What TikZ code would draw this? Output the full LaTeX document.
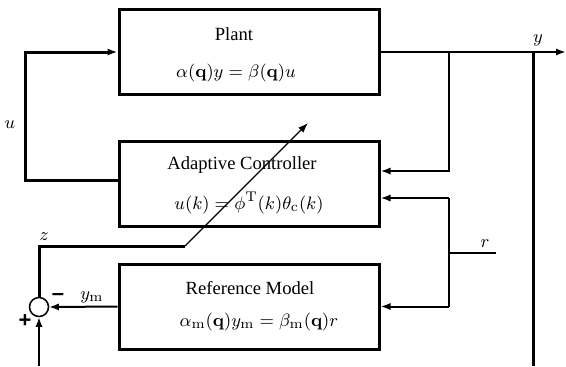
\documentclass[tikz,border=0pt]{standalone}
\usepackage{amsmath}
\usepackage[no-math]{fontspec}
\setmainfont{Liberation Serif}
\newfontfamily\signfont{Liberation Sans}
\usetikzlibrary{arrows.meta,calc}
\begin{document}
\begin{tikzpicture}[x=0.5pt,y=-0.5pt,
  font=\fontsize{9.3}{11}\selectfont,
  block/.style={draw,line width=1.5pt,minimum width=130pt,minimum height=42.5pt,inner sep=0pt},
  sig/.style={line width=1pt},
  heavy/.style={line width=1.5pt},
  thin/.style={line width=0.6pt},
  tip/.style={-{Latex[length=5pt,width=3.6pt]}},
  lbl/.style={inner sep=0pt}]
\useasboundingbox (0,0) rectangle (566,366);

% blocks
\node[block] (plant) at (249,52) {};
\node[block] (ctrl)  at (249,183.5) {};
\node[block] (refm)  at (249,306.5) {};
\draw[line width=0.75pt] (39,307) circle (4.75pt);
\node[circle,minimum size=9.5pt,inner sep=0pt] (sum) at (39,307) {};

% block contents
\node[lbl] (plantA) at (234,34) {Plant};
\node[lbl] (plantB) at (236,73) {$\alpha(\mathbf{q})y=\beta(\mathbf{q})u$};
\node[lbl] (ctrlA)  at (242,165) {Adaptive Controller};
\node[lbl] (ctrlB)  at (249,203) {$u(k)=\phi^{\mathrm{T}}(k)\theta_{\mathrm{c}}(k)$};
\node[lbl] (refA)   at (250,288) {Reference Model};
\node[lbl] (refB)   at (259,322) {$\alpha_{\mathrm{m}}(\mathbf{q})y_{\mathrm{m}}=\beta_{\mathrm{m}}(\mathbf{q})r$};

% junction points
\coordinate (uL)   at (25,52);
\coordinate (uB)   at (25,180);
\coordinate (yEnd) at (566,52);
\coordinate (yBr)  at (449,52);
\coordinate (yTap) at (533,52);
\coordinate (yBot) at (533,366);
\coordinate (rIn)  at (496,253);
\coordinate (rBr)  at (449,253);
\coordinate (zTop) at (39,246);
\coordinate (zKnee) at (185,246);
\coordinate (zEnd) at (308,123);
\coordinate (inBot) at (39,366);

% control signal u
\draw[heavy,tip] (ctrl.west |- uB) -- (uB) -- (uL) -- (plant.west);
% plant output y
\draw[sig,tip] (plant.east) -- (yEnd);
\draw[heavy] (yTap) -- (yBot);
\draw[sig,tip] (yBr) |- ([yshift=6.25pt]ctrl.east);
% reference r
\draw[sig] (rIn) -- (rBr);
\draw[sig,tip] (rBr |- ctrl.east) ++(0,14.5) coordinate (rTop) -- ([yshift=-7.25pt]ctrl.east);
\draw[sig] (rTop) -- (rBr |- refm.east);
\draw[sig,tip] (rBr |- refm.east) -- (refm.east);
% model output and error signal
\draw[sig,tip] (refm.west) -- (sum.east);
\draw[sig,tip] (inBot) -- (sum.south);
\draw[heavy] (sum.north) -- (zTop) -- (zKnee);
\draw[thin,tip] (zKnee) -- (zEnd);

% signal labels
\node[lbl] (lu)  at (10,125) {$u$};
\node[lbl] (ly)  at (538,40) {$y$};
\node[lbl] (lr)  at (485,244) {$r$};
\node[lbl] (lz)  at (44,237) {$z$};
\node[lbl] (lym) at (92,297) {$y_{\mathrm{m}}$};
\node[lbl] (lmin) at (58,297) {\signfont\bfseries\fontsize{11}{11}\selectfont –};
\node[lbl] (lplus) at (25,321) {\signfont\bfseries\fontsize{11}{11}\selectfont +};
\end{tikzpicture}
\end{document}
